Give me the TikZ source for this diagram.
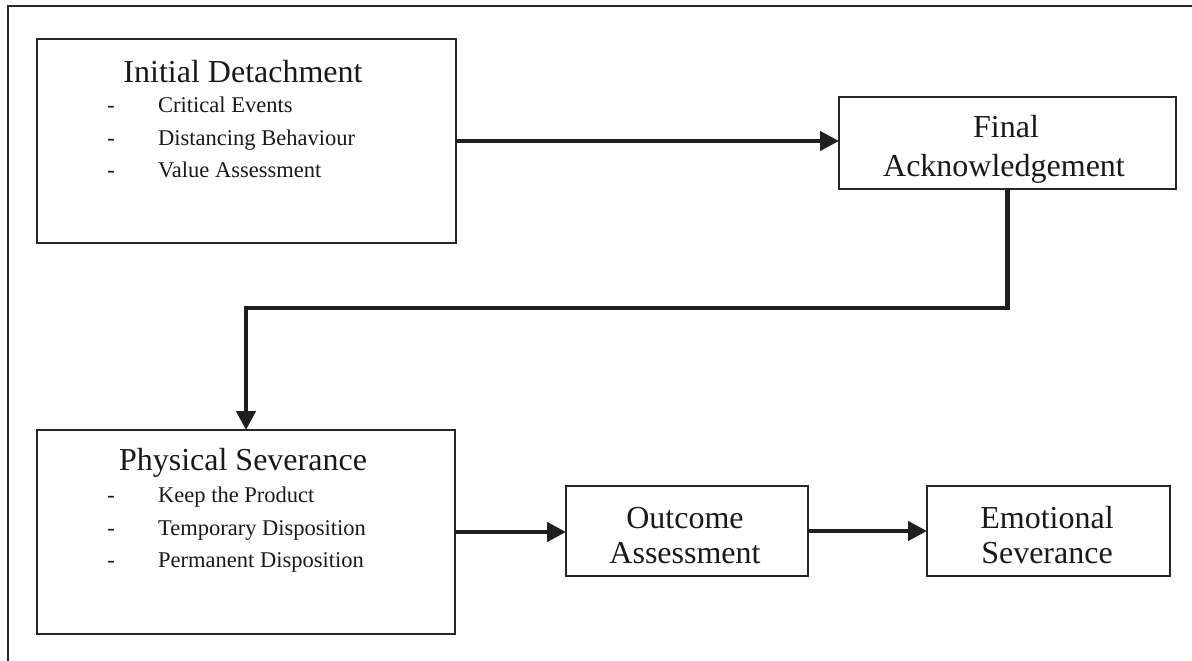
\documentclass[tikz,border=0pt]{standalone}
\usepackage{fontspec}
\setmainfont{Liberation Serif}
\usetikzlibrary{arrows.meta,calc}

\begin{document}
\begin{tikzpicture}[x=1pt,y=-1pt,
  box/.style={draw=black!85,line width=2.2pt,inner sep=0pt,outer sep=0pt,anchor=north west},
  head/.style={font=\fontsize{32}{38}\selectfont,text=black!90,anchor=base,inner sep=0pt},
  item/.style={font=\fontsize{22.5}{27}\selectfont,text=black!90,anchor=base west,inner sep=0pt},
  bul/.style={font=\fontsize{22.5}{27}\selectfont,text=black!90,anchor=base,inner sep=0pt},
  flow/.style={draw=black!88,line width=4.5pt,-{Triangle[length=19pt,width=19pt]}},
]
\useasboundingbox (0,0) rectangle (1192,661);

% page frame (top and left rules)
\draw[draw=black!85,line width=2.5pt] (8,661) -- (8,6) -- (1192,6);

% stage boxes
\node[box,minimum width=419pt,minimum height=204pt] (id) at (37,39) {};
\node[box,minimum width=337pt,minimum height=92pt]  (fa) at (839,97) {};
\node[box,minimum width=418pt,minimum height=204pt] (ps) at (37,430) {};
\node[box,minimum width=242pt,minimum height=90pt]  (oa) at (566,486) {};
\node[box,minimum width=243pt,minimum height=90pt]  (es) at (927,486) {};

% Initial Detachment
\node[head] (idt) at (243,82) {Initial Detachment};
\node[bul] (idd1) at (111,113) {-};
\node[item] (idi1) at (158,113) {Critical Events};
\node[bul] (idd2) at (111,145) {-};
\node[item] (idi2) at (158,145) {Distancing Behaviour};
\node[bul] (idd3) at (111,177) {-};
\node[item] (idi3) at (158,177) {Value Assessment};

% Final Acknowledgement
\node[head] (fat1) at (1006,137) {Final};
\node[head] (fat2) at (1004,176) {Acknowledgement};

% Physical Severance
\node[head] (pst) at (243,470) {Physical Severance};
\node[bul] (psd1) at (111,502) {-};
\node[item] (psi1) at (158,502) {Keep the Product};
\node[bul] (psd2) at (111,535) {-};
\node[item] (psi2) at (158,535) {Temporary Disposition};
\node[bul] (psd3) at (111,567) {-};
\node[item] (psi3) at (158,567) {Permanent Disposition};

% Outcome Assessment
\node[head] (oat1) at (685,528) {Outcome};
\node[head] (oat2) at (685,563) {Assessment};

% Emotional Severance
\node[head] (est1) at (1047,528) {Emotional};
\node[head] (est2) at (1047,563) {Severance};

% connectors
\draw[flow] (id.east) -- (id.east -| fa.west);
\draw[flow,line join=miter] (fa.south) -- ++(0,119) -| (ps.north);
\draw[flow] (ps.east) -- (ps.east -| oa.west);
\draw[flow] (oa.east) -- (es.west);
\end{tikzpicture}
\end{document}
